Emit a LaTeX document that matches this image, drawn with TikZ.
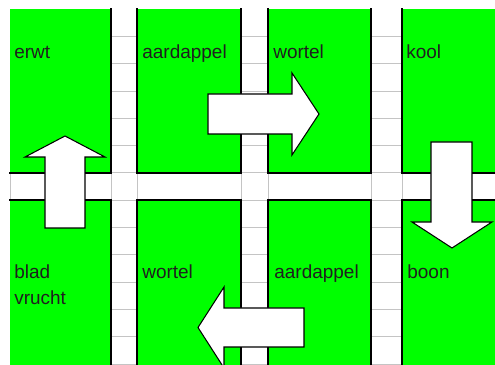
\documentclass[tikz,border=0pt]{standalone}
\usepackage{fontspec}
\setmainfont{Liberation Sans}
\definecolor{bedgreen}{RGB}{0,255,0}
\definecolor{gridgray}{RGB}{196,196,196}
\begin{document}
\begin{tikzpicture}[x=0.02cm, y=-0.02cm,
  bed/.style={fill=bedgreen, draw=none},
  bed_edge/.style={draw=black, line width=1.2pt, line cap=rect},
  grid_line/.style={draw=gridgray, line width=0.45pt},
  block_arrow/.style={fill=white, draw=black, line width=0.6pt, line join=miter},
  crop/.style={anchor=base west, inner sep=0pt, text=black!88,
    font=\fontsize{10.8}{13}\selectfont}
]
\useasboundingbox (0,0) rectangle (495,365);
\clip (0,0) rectangle (495,365);

% Spreadsheet grid in the paths
\foreach \r in {1,...,13} {
  \pgfmathsetmacro{\ry}{9+27.3*\r}
  \draw[grid_line] (10,\ry) -- (495,\ry);
}
\foreach \x in {111,137,241,268,371,402} {
  \draw[grid_line] (\x,9) -- (\x,365);
}
\draw[grid_line] (10,172.8) -- (10,200.1);

% Green beds
\foreach \xa/\xb in {10/111,137/241,268/371,402/495} {
  \foreach \ya/\yb in {9/172.8,200.1/365} {
    \fill[bed] (\xa,\ya) rectangle (\xb,\yb);
  }
}

% Bed borders (top row)
\draw[bed_edge] (10,172.8) -- (111,172.8) -- (111,9);
\draw[bed_edge] (137,9) -- (137,172.8) -- (241,172.8) -- (241,9);
\draw[bed_edge] (268,9) -- (268,172.8) -- (371,172.8) -- (371,9);
\draw[bed_edge] (402,9) -- (402,172.8) -- (495,172.8);
% Bed borders (bottom row)
\draw[bed_edge] (10,200.1) -- (111,200.1) -- (111,365);
\draw[bed_edge] (137,365) -- (137,200.1) -- (241,200.1) -- (241,365);
\draw[bed_edge] (268,365) -- (268,200.1) -- (371,200.1) -- (371,365);
\draw[bed_edge] (402,365) -- (402,200.1) -- (495,200.1);

% Rotation arrows
\draw[block_arrow] (45,228) -- (45,157) -- (25,157) -- (65,136)
  -- (105,157) -- (85,157) -- (85,228) -- cycle;
\draw[block_arrow] (208,94) -- (292,94) -- (292,73) -- (319,114)
  -- (292,155) -- (292,134) -- (208,134) -- cycle;
\draw[block_arrow] (431,142) -- (472,142) -- (472,222) -- (492,222)
  -- (452,248) -- (412,222) -- (431,222) -- cycle;
\draw[block_arrow] (304,308) -- (304,347) -- (224,347) -- (224,368)
  -- (198,327.5) -- (224,287) -- (224,308) -- cycle;

% Labels
\node[crop] (erwt) at (14,58) {erwt};
\node[crop] (aardappel1) at (142,58) {aardappel};
\node[crop] (wortel1) at (273,58) {wortel};
\node[crop] (kool) at (406,58) {kool};
\node[crop] (blad) at (14,279) {blad};
\node[crop] (vrucht) at (14,305) {vrucht};
\node[crop] (wortel2) at (142,279) {wortel};
\node[crop] (aardappel2) at (274,279) {aardappel};
\node[crop] (boon) at (407,279) {boon};

\end{tikzpicture}
\end{document}
